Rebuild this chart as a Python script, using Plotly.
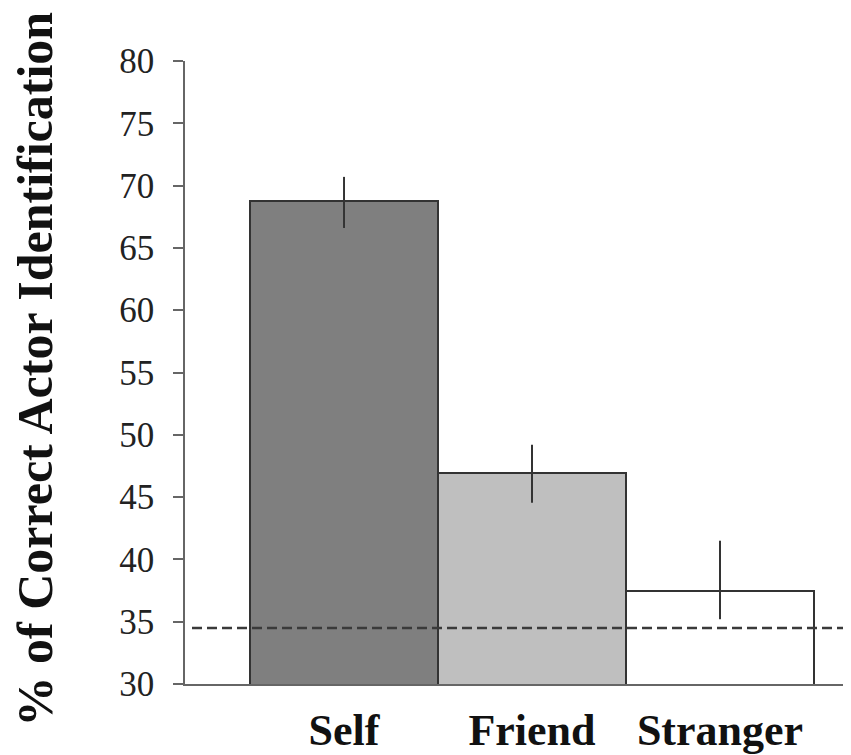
import plotly.graph_objects as go

categories = ["Self", "Friend", "Stranger"]
values = [68.8, 46.9, 37.5]
err_plus = [1.9, 2.3, 4.0]
err_minus = [2.2, 2.35, 2.3]
bar_colors = ["#7f7f7f", "#bfbfbf", "#ffffff"]
chance_level = 34.5
y_ticks = [30, 35, 40, 45, 50, 55, 60, 65, 70, 75, 80]
y_title = "% of Correct Actor Identification"

SERIF = "Liberation Serif, Times New Roman, serif"

# page body has an 8px margin; the figure is sized to fill the rest of the window
W, H = 843, 747
L, T, B = 177, 53, 71
plot_w = W - L

fig = go.Figure()
fig.add_trace(go.Bar(
    x=[0, 1, 2],
    y=values,
    marker=dict(color=bar_colors, line=dict(color="#333333", width=2)),
    error_y=dict(type="data", symmetric=False, array=err_plus, arrayminus=err_minus,
                 color="#333333", thickness=2, width=0),
    width=1,
    showlegend=False,
))

fig.add_shape(type="line", xref="paper", yref="y", x0=7 / plot_w, x1=1,
              y0=chance_level, y1=chance_level,
              line=dict(color="#3a3a3a", width=2.5, dash="10px,5px"))

fig.add_annotation(text="<b>" + y_title + "</b>", xref="paper", yref="paper",
                   x=-(L - 26) / plot_w, y=0.5 + 3 / 623, xanchor="center", yanchor="middle",
                   textangle=-90, showarrow=False,
                   font=dict(family=SERIF, size=50, color="#111111"))

fig.update_layout(
    width=W, height=H,
    margin=dict(l=L, r=0, t=T, b=B, autoexpand=False),
    paper_bgcolor="white", plot_bgcolor="white",
    bargap=0,
    xaxis=dict(
        range=[-0.846, 2.697],
        tickvals=[0, 1, 2], ticktext=["<b>" + c + "</b>" for c in categories],
        tickfont=dict(family=SERIF, size=44, color="#111111"),
        showgrid=False, zeroline=False, automargin=False,
        showline=True, linecolor="#666666", linewidth=1.5,
        ticks="", ticklabelstandoff=6,
    ),
    yaxis=dict(
        range=[30, 80],
        tickvals=y_ticks,
        tickfont=dict(family=SERIF, size=35, color="#222222"),
        showgrid=False, zeroline=False, automargin=False,
        showline=True, linecolor="#666666", linewidth=1.5,
        ticks="outside", ticklen=10, tickcolor="#666666", tickwidth=1.5,
        ticklabelstandoff=12,
    ),
)

fig.write_html("out.html")
